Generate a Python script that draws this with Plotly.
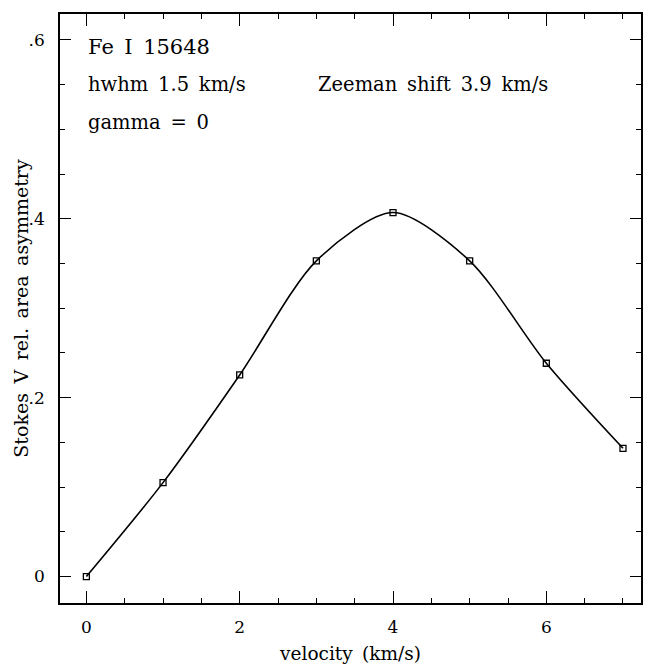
import plotly.graph_objects as go

velocity = [0, 1, 2, 3, 4, 5, 6, 7]
asymmetry = [0.0, 0.105, 0.2254, 0.353, 0.407, 0.353, 0.2385, 0.1434]

y_tickvals = [0, 0.2, 0.4, 0.6]
y_ticktext = ["0", ".2", ".4", ".6"]
x_tickvals = [0, 2, 4, 6]
x_ticktext = ["0", "2", "4", "6"]

FONT = "DejaVu Serif"
SP = "\u2002"  # wide space, as in the typewriter-like original

fig = go.Figure()
fig.add_trace(go.Scatter(
    x=velocity, y=asymmetry, mode="lines+markers",
    line=dict(color="black", width=1.6, shape="spline", smoothing=0.8),
    marker=dict(symbol="square-open", size=6, color="black", line=dict(width=1.3, color="black")),
    showlegend=False,
))

annots = [
    dict(x=0.0, y=0.592, text="Fe I 15648", size=21),
    dict(x=0.0, y=0.550, text="hwhm 1.5 km/s", size=19.5),
    dict(x=0.0, y=0.508, text="gamma = 0", size=19.5),
    dict(x=3.0, y=0.550, text="Zeeman shift 3.9 km/s", size=19.5),
]
for a in annots:
    fig.add_annotation(x=a["x"], y=a["y"], xref="x", yref="y", text=a["text"].replace(" ", SP),
                       showarrow=False, xanchor="left", yanchor="middle",
                       font=dict(family=FONT, size=a["size"], color="black"))

# y-axis title as rotated annotation (placed to match original position)
fig.add_annotation(x=-0.0686, y=0.5, xref="paper", yref="paper",
                   text="Stokes V rel. area asymmetry".replace(" ", SP), textangle=-90,
                   showarrow=False, xanchor="center", yanchor="middle",
                   font=dict(family=FONT, size=19, color="black"))

axis_common = dict(
    showgrid=False, zeroline=False, showline=True, linecolor="black", linewidth=1.5,
    mirror="allticks", ticks="inside", tickcolor="black", tickwidth=1.3,
    tickfont=dict(family=FONT, size=17, color="black"),
)

fig.update_xaxes(
    range=[-0.344, 7.235], tickvals=x_tickvals, ticktext=x_ticktext, ticklen=12,
    minor=dict(dtick=0.5, tick0=0, ticklen=5, ticks="inside", tickcolor="black", tickwidth=1.2),
    title=dict(text="velocity (km/s)".replace(" ", SP), font=dict(family=FONT, size=18.5, color="black"), standoff=11),
    ticklabelstandoff=8,
    **axis_common,
)
fig.update_yaxes(
    range=[-0.0296, 0.629], tickvals=y_tickvals, ticktext=y_ticktext, ticklen=11,
    minor=dict(dtick=0.05, tick0=0, ticklen=5, ticks="inside", tickcolor="black", tickwidth=1.2),
    ticklabelstandoff=10,
    **axis_common,
)

fig.update_layout(
    width=645, height=665,
    margin=dict(l=60, r=2, t=14, b=62),
    paper_bgcolor="white", plot_bgcolor="white",
    font=dict(family=FONT, color="black"),
)

fig.write_html("out.html")
